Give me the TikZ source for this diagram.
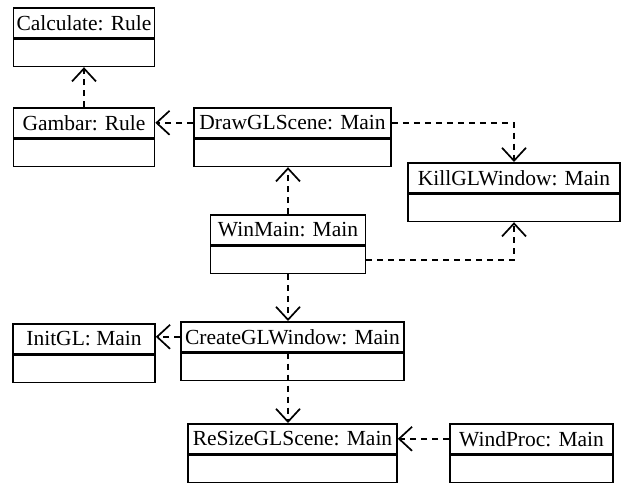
\documentclass[tikz,border=0pt]{standalone}
\usepackage{fontspec}
\setmainfont{Liberation Serif}
\usetikzlibrary{arrows.meta}
\usetikzlibrary{positioning}
\tikzset{objhead/.style = {draw, line width = 1.6pt, anchor = north, inner sep = 0,
    minimum height = 30pt, font = \fontsize{21.5}{24}\selectfont}}
\tikzset{objbody/.style = {draw, line width = 1.6pt, anchor = north, inner sep = 0,
    minimum height = 27pt}}
\tikzset{calls/.style = {line width = 1.5pt, dash pattern = on 6pt off 5pt,
    -{Straight Barb[length = 13pt, width = 24pt, line width = 1.7pt]}}}
\newcommand{\umlobj}[5]{%
  \node [objhead, minimum width = #4] (#1) at (#2, #3) {#5};
  \node [objbody, minimum width = #4] (#1b) at (#1.south) {};}

\begin{document}
\begin{tikzpicture}[x=1pt, y=-1pt]
    \useasboundingbox (0, 0) rectangle (621, 482);

    \umlobj{calc}{84}{7}{141pt}{Calculate: Rule}
    \umlobj{gambar}{84}{107}{141pt}{Gambar: Rule}
    \umlobj{drawgl}{292.5}{107}{197pt}{DrawGLScene: Main}
    \umlobj{killgl}{514}{162}{212pt}{KillGLWindow: Main}
    \umlobj{winmain}{288}{214}{155pt}{WinMain: Main}
    \umlobj{initgl}{84}{323}{142pt}{InitGL: Main}
    \umlobj{creategl}{292.5}{321}{223pt}{CreateGLWindow: Main}
    \umlobj{resize}{292.5}{423}{209pt}{ReSizeGLScene: Main}
    \umlobj{windproc}{531.5}{423}{163pt}{WindProc: Main}

    \draw [calls] (gambar.north) -- (calcb.south);
    \draw [calls] (drawgl.west) -- (gambar.east);
    \draw [calls] (drawgl.east) -| (killgl.north);
    \draw [calls] (winmainb.east) -| (killglb.south);
    \draw [calls] (winmain.north) -- (winmain.north |- drawglb.south);
    \draw [calls] (winmainb.south) -- (winmainb.south |- creategl.north);
    \draw [calls] (creategl.west) -- (creategl.west -| initgl.east);
    \draw [calls] (creategl.south -| winmain.north) -- (resize.north -| winmain.north);
    \draw [calls] (windproc.west) -- (resize.east);
  \end{tikzpicture}
\end{document}
